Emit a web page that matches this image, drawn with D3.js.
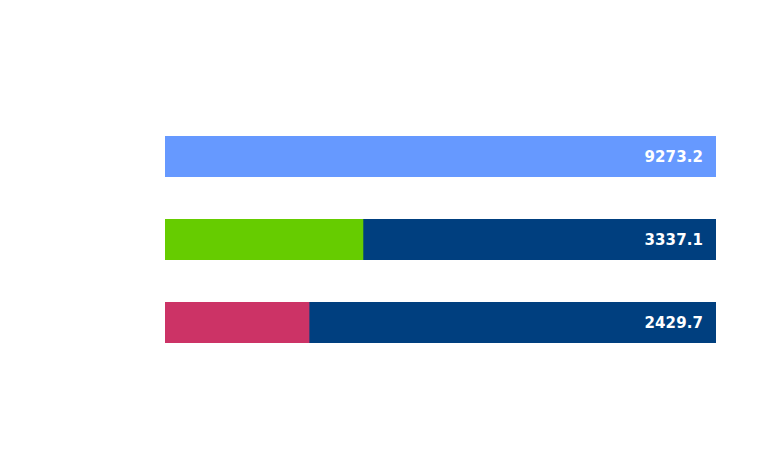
<!DOCTYPE html>
<html>
<head>
<meta charset="utf-8">
<script src="https://cdn.jsdelivr.net/npm/d3@7"></script>
<style>
  html, body { margin: 0; padding: 0; background: #fff; }
  svg { display: block; }
</style>
</head>
<body>
<script>
// Data
const categories = ["A", "B", "C"];
const values = [9273.2, 3337.1, 2429.7];
const barColors = ["#6699ff", "#66cc00", "#cc3366"];
const trackMax = 9273.2;

const W = 780, H = 450;
const margin = { top: 136, right: 64, bottom: 107, left: 165 };
const width = W - margin.left - margin.right;
const height = H - margin.top - margin.bottom;

const svg = d3.select("body")
    .append("svg")
    .attr("width", W)
    .attr("height", H)
    .append("g")
    .attr("transform", `translate(${margin.left},${margin.top})`);

const x = d3.scaleLinear()
    .domain([0, trackMax])
    .range([0, width]);

const y = d3.scaleBand()
    .domain(categories)
    .range([0, height])
    .paddingInner(0.506)
    .paddingOuter(0);

// Background track bars
svg.selectAll(".track")
    .data(categories)
    .enter()
    .append("rect")
    .attr("class", "track")
    .attr("x", 0)
    .attr("y", d => y(d))
    .attr("width", x(trackMax))
    .attr("height", y.bandwidth())
    .attr("fill", "#003f7f");

// Value bars
svg.selectAll(".bar")
    .data(values)
    .enter()
    .append("rect")
    .attr("class", "bar")
    .attr("x", 0)
    .attr("y", (d, i) => y(categories[i]))
    .attr("width", d => x(d))
    .attr("height", y.bandwidth())
    .attr("fill", (d, i) => barColors[i]);

// Value labels
svg.selectAll(".label")
    .data(values)
    .enter()
    .append("text")
    .attr("class", "label")
    .attr("x", x(trackMax) - 13)
    .attr("y", (d, i) => y(categories[i]) + y.bandwidth() / 2)
    .attr("dy", "0.36em")
    .attr("text-anchor", "end")
    .attr("fill", "#fff")
    .attr("font-family", "'DejaVu Sans', sans-serif")
    .attr("font-weight", "bold")
    .attr("font-size", "15px")
    .attr("letter-spacing", "0.1px")
    .text(d => d.toFixed(1));
</script>
</body>
</html>
